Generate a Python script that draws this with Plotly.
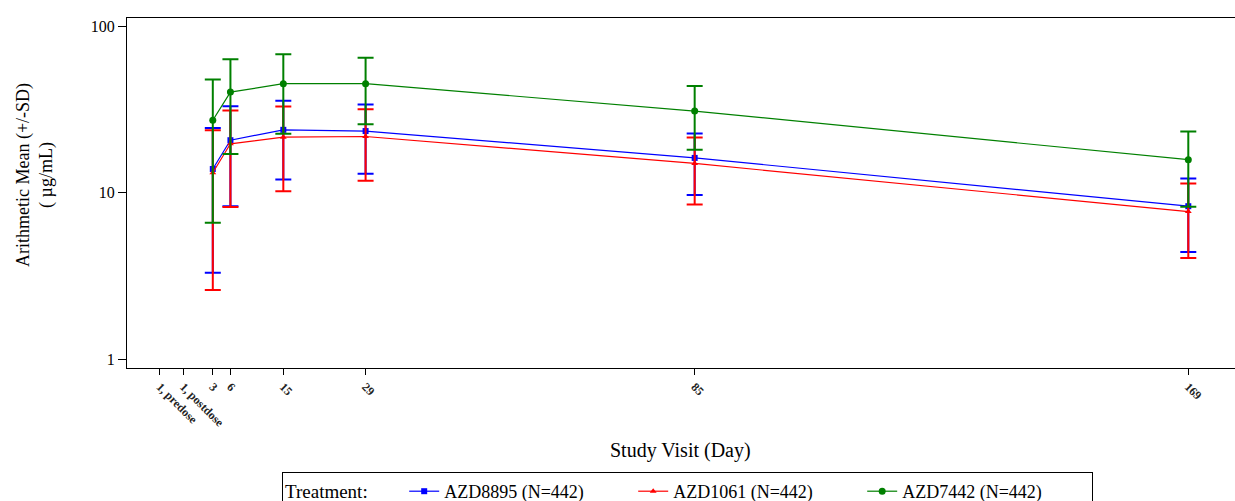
import plotly.graph_objects as go

# Study visit days with measured concentrations
days = [3, 6, 15, 29, 85, 169]

# Arithmetic mean and SD (ug/mL) by treatment
azd8895_mean = [13.9, 20.7, 23.9, 23.5, 16.2, 8.3]
azd8895_sd = [10.6, 12.4, 11.9, 10.5, 6.5, 3.9]

azd1061_mean = [13.2, 19.7, 21.6, 21.8, 15.0, 7.7]
azd1061_sd = [10.6, 11.5, 11.4, 10.0, 6.5, 3.65]

azd7442_mean = [27.3, 40.3, 45.3, 45.3, 31.0, 15.8]
azd7442_sd = [20.7, 23.2, 22.7, 19.5, 12.85, 7.55]

# Visit axis ticks
tick_vals = [-6, -2, 3, 6, 15, 29, 85, 169]
tick_text = ["1, predose", "1, postdose", "3", "6", "15", "29", "85", "169"]

series = [
    ("AZD8895 (N=442)", azd8895_mean, azd8895_sd, "#0000FF", "square", 6),
    ("AZD1061 (N=442)", azd1061_mean, azd1061_sd, "#FF0000", "triangle-up", 6),
    ("AZD7442 (N=442)", azd7442_mean, azd7442_sd, "#008000", "circle", 7),
]

SERIF = "Liberation Serif, Times New Roman, serif"

fig = go.Figure()
for name, mean, sd, color, symbol, msize in series:
    fig.add_trace(go.Scatter(
        x=days, y=mean, name=name, mode="lines+markers",
        line=dict(color=color, width=1.2),
        marker=dict(color=color, symbol=symbol, size=msize),
        error_y=dict(type="data", array=sd, visible=True,
                     color=color, thickness=2, width=8),
    ))

W, H = 1235, 501
L, R, T, B = 127, 0, 18, 133
pw, ph = W - L - R, H - T - B

fig.update_layout(
    width=W, height=H,
    margin=dict(l=L, r=R, t=T, b=B, pad=0, autoexpand=False),
    paper_bgcolor="white", plot_bgcolor="white",
    font=dict(family=SERIF, color="black"),
    showlegend=True,
    legend=dict(
        orientation="h",
        x=(282 - L) / pw, y=-(472 - (T + ph)) / ph,
        xanchor="left", yanchor="top",
        title=dict(text="Treatment:" + "\u00a0" * 6,
                   font=dict(family=SERIF, size=19)),
        font=dict(family=SERIF, size=18),
        entrywidth=184, entrywidthmode="pixels",
        bordercolor="black", borderwidth=1,
        bgcolor="white",
    ),
    xaxis=dict(
        range=[-11.6, 169 + (W - 1188.3) / 5.877],
        tickmode="array", tickvals=tick_vals, ticktext=tick_text,
        tickangle=45,
        tickfont=dict(family=SERIF, size=12, weight="bold", color="#222"),
        ticks="outside", ticklen=6, tickcolor="black", tickwidth=1,
        showline=True, linecolor="black", linewidth=1, mirror=True,
        showgrid=False, zeroline=False,
    ),
    yaxis=dict(
        type="log",
        range=[-0.054, 2.051],
        tickmode="array", tickvals=[1, 10, 100], ticktext=["1", "10", "100"],
        tickfont=dict(family=SERIF, size=16),
        ticks="outside", ticklen=8, tickcolor="black", tickwidth=1,
        showline=True, linecolor="black", linewidth=1, mirror=False,
        showgrid=False, zeroline=False,
    ),
    annotations=[
        dict(text="Arithmetic Mean (+/-SD)<br>( µg/mL)",
             xref="paper", yref="paper",
             x=(35 - L) / pw, y=(T + ph - 175) / ph,
             xanchor="center", yanchor="middle",
             textangle=-90, showarrow=False,
             font=dict(family=SERIF, size=18)),
        dict(text="Study Visit (Day)",
             xref="paper", yref="paper",
             x=(680 - L) / pw, y=-(450 - (T + ph)) / ph,
             xanchor="center", yanchor="middle",
             showarrow=False,
             font=dict(family=SERIF, size=20)),
    ],
)

fig.write_html("out.html")
